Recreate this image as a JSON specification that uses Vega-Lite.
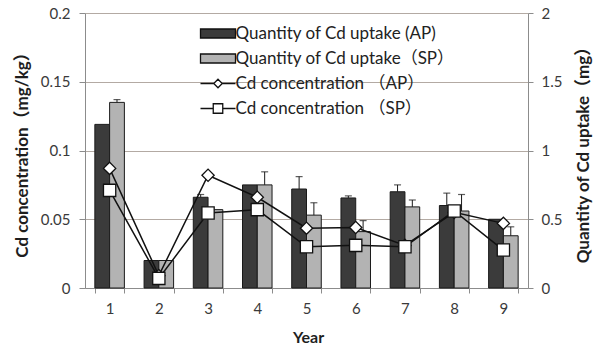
{
  "$schema": "https://vega.github.io/schema/vega-lite/v6.json",
  "width": 443,
  "height": 275,
  "autosize": {"type": "none"},
  "padding": {"left": 85, "top": 13, "right": 69, "bottom": 63},
  "background": "white",
  "config": {
    "font": "Lato, 'Noto Sans CJK SC', sans-serif",
    "view": {"stroke": null},
    "axis": {
      "labelFont": "Lato, 'Noto Sans CJK SC', sans-serif",
      "labelFontSize": 15,
      "labelColor": "#3a3a3a",
      "titleFont": "Lato, 'Noto Sans CJK SC', sans-serif",
      "titleFontSize": 17,
      "titleFontWeight": "bold",
      "titleColor": "#1e1e1e",
      "domainColor": "#8c8c8c",
      "tickColor": "#8c8c8c",
      "gridColor": "#b3aaa3",
      "gridWidth": 1
    }
  },
  "datasets": {
    "uptake": [
      {"year": "1", "treatment": "AP", "key": "Quantity of Cd uptake (AP)", "uptake": 1.19, "upper": null},
      {"year": "1", "treatment": "SP", "key": "Quantity of Cd uptake（SP）", "uptake": 1.35, "upper": 1.37},
      {"year": "2", "treatment": "AP", "key": "Quantity of Cd uptake (AP)", "uptake": 0.2, "upper": null},
      {"year": "2", "treatment": "SP", "key": "Quantity of Cd uptake（SP）", "uptake": 0.2, "upper": null},
      {"year": "3", "treatment": "AP", "key": "Quantity of Cd uptake (AP)", "uptake": 0.66, "upper": 0.68},
      {"year": "3", "treatment": "SP", "key": "Quantity of Cd uptake（SP）", "uptake": 0.57, "upper": null},
      {"year": "4", "treatment": "AP", "key": "Quantity of Cd uptake (AP)", "uptake": 0.75, "upper": null},
      {"year": "4", "treatment": "SP", "key": "Quantity of Cd uptake（SP）", "uptake": 0.75, "upper": 0.845},
      {"year": "5", "treatment": "AP", "key": "Quantity of Cd uptake (AP)", "uptake": 0.72, "upper": 0.81},
      {"year": "5", "treatment": "SP", "key": "Quantity of Cd uptake（SP）", "uptake": 0.53, "upper": 0.62},
      {"year": "6", "treatment": "AP", "key": "Quantity of Cd uptake (AP)", "uptake": 0.655, "upper": 0.67},
      {"year": "6", "treatment": "SP", "key": "Quantity of Cd uptake（SP）", "uptake": 0.41, "upper": 0.49},
      {"year": "7", "treatment": "AP", "key": "Quantity of Cd uptake (AP)", "uptake": 0.7, "upper": 0.75},
      {"year": "7", "treatment": "SP", "key": "Quantity of Cd uptake（SP）", "uptake": 0.59, "upper": 0.64},
      {"year": "8", "treatment": "AP", "key": "Quantity of Cd uptake (AP)", "uptake": 0.6, "upper": 0.69},
      {"year": "8", "treatment": "SP", "key": "Quantity of Cd uptake（SP）", "uptake": 0.56, "upper": 0.68},
      {"year": "9", "treatment": "AP", "key": "Quantity of Cd uptake (AP)", "uptake": 0.5, "upper": null},
      {"year": "9", "treatment": "SP", "key": "Quantity of Cd uptake（SP）", "uptake": 0.38, "upper": 0.445}
    ],
    "conc": [
      {"year": "1", "treatment": "AP", "conc": 0.087},
      {"year": "2", "treatment": "AP", "conc": 0.009},
      {"year": "3", "treatment": "AP", "conc": 0.082},
      {"year": "4", "treatment": "AP", "conc": 0.066},
      {"year": "5", "treatment": "AP", "conc": 0.0435},
      {"year": "6", "treatment": "AP", "conc": 0.044},
      {"year": "7", "treatment": "AP", "conc": 0.031},
      {"year": "8", "treatment": "AP", "conc": 0.055},
      {"year": "9", "treatment": "AP", "conc": 0.047},
      {"year": "1", "treatment": "SP", "conc": 0.071},
      {"year": "2", "treatment": "SP", "conc": 0.007},
      {"year": "3", "treatment": "SP", "conc": 0.0545},
      {"year": "4", "treatment": "SP", "conc": 0.057},
      {"year": "5", "treatment": "SP", "conc": 0.03},
      {"year": "6", "treatment": "SP", "conc": 0.031},
      {"year": "7", "treatment": "SP", "conc": 0.03},
      {"year": "8", "treatment": "SP", "conc": 0.056},
      {"year": "9", "treatment": "SP", "conc": 0.0276}
    ]
  },
  "encoding": {
    "x": {
      "field": "year",
      "type": "ordinal",
      "scale": {"paddingInner": 0.4, "paddingOuter": 0.2},
      "axis": {
        "title": "Year",
        "labelAngle": 0,
        "tickBand": "extent",
        "tickSize": 5,
        "labelPadding": 8,
        "grid": false,
        "titleX": 223,
        "titleY": 49,
        "titleFontSize": 16,
        "titleBaseline": "middle"
      }
    }
  },
  "layer": [
    {
      "data": {"name": "uptake"},
      "layer": [
        {
          "mark": {"type": "bar", "stroke": "#1a1a1a", "strokeWidth": 1},
          "encoding": {
            "xOffset": {"field": "treatment", "scale": {"paddingInner": 0, "paddingOuter": 0}},
            "y": {
              "field": "uptake",
              "type": "quantitative",
              "scale": {"domain": [0, 2]},
              "axis": {
                "orient": "right",
                "title": "Quantity of Cd uptake（mg）",
                "values": [0, 0.5, 1, 1.5, 2],
                "labelExpr": "'' + datum.value",
                "grid": false,
                "tickSize": 5,
                "labelPadding": 8,
                "titleX": 55,
                "titleY": 137.5,
                "titleAngle": -90,
                "titleAlign": "center",
                "titleBaseline": "middle"
              }
            },
            "fill": {
              "field": "key",
              "type": "nominal",
              "scale": {
                "domain": ["Quantity of Cd uptake (AP)", "Quantity of Cd uptake（SP）", "Cd concentration （AP）", "Cd concentration （SP）"],
                "range": ["#3b3b3b", "#b3b3b3", "#ffffff", "#ffffff"]
              },
              "legend": {
                "title": null,
                "orient": "none",
                "legendX": 124.5,
                "legendY": 12,
                "padding": 0,
                "symbolSize": 100,
                "symbolType": {"expr": "datum.value == 'Cd concentration （AP）' ? 'M-3.5,0H-0.85M0.85,0H3.5M0,-0.85L0.85,0L0,0.85L-0.85,0Z' : datum.value == 'Cd concentration （SP）' ? 'M-3.5,0H-0.95M0.95,0H3.5M-0.95,-0.95H0.95V0.95H-0.95Z' : 'M-3.5,-0.9H3.5V0.9H-3.5Z'"},
                "symbolStrokeColor": "#111111",
                "symbolStrokeWidth": 1.3,
                "symbolOpacity": 1,
                "labelOffset": 9,
                "labelFont": "Lato, 'Noto Sans CJK SC', sans-serif",
                "labelFontSize": 17,
                "labelColor": "#222222",
                "labelLimit": 300,
                "rowPadding": 7
              }
            }
          }
        },
        {
          "transform": [{"filter": "datum.upper != null"}],
          "mark": {"type": "rule", "color": "#1a1a1a", "strokeWidth": 1},
          "encoding": {
            "xOffset": {"field": "treatment"},
            "y": {"field": "uptake", "type": "quantitative"},
            "y2": {"field": "upper"}
          }
        },
        {
          "transform": [{"filter": "datum.upper != null"}],
          "mark": {"type": "tick", "color": "#1a1a1a", "size": 7, "thickness": 1.2, "orient": "horizontal"},
          "encoding": {
            "xOffset": {"field": "treatment"},
            "y": {"field": "upper", "type": "quantitative"}
          }
        }
      ]
    },
    {
      "data": {"name": "conc"},
      "layer": [
        {
          "mark": {"type": "line", "color": "#111111", "strokeWidth": 1.5},
          "encoding": {
            "y": {
              "field": "conc",
              "type": "quantitative",
              "scale": {"domain": [0, 0.2]},
              "axis": {
                "orient": "left",
                "title": "Cd concentration（mg/kg）",
                "values": [0, 0.05, 0.1, 0.15, 0.2],
                "labelExpr": "'' + datum.value",
                "grid": true,
                "tickSize": 6,
                "labelPadding": 9,
                "titleX": -63,
                "titleY": 137.5,
                "titleAngle": -90,
                "titleAlign": "center",
                "titleBaseline": "middle"
              }
            },
            "detail": {"field": "treatment"}
          }
        },
        {
          "mark": {"type": "point", "filled": true, "fill": "#ffffff", "stroke": "#111111", "strokeWidth": 1.3, "opacity": 1, "size": 150},
          "encoding": {
            "y": {"field": "conc", "type": "quantitative"},
            "shape": {
              "field": "treatment",
              "scale": {"domain": ["AP", "SP"], "range": ["diamond", "square"]},
              "legend": null
            }
          }
        }
      ]
    }
  ],
  "resolve": {"scale": {"y": "independent"}}
}
